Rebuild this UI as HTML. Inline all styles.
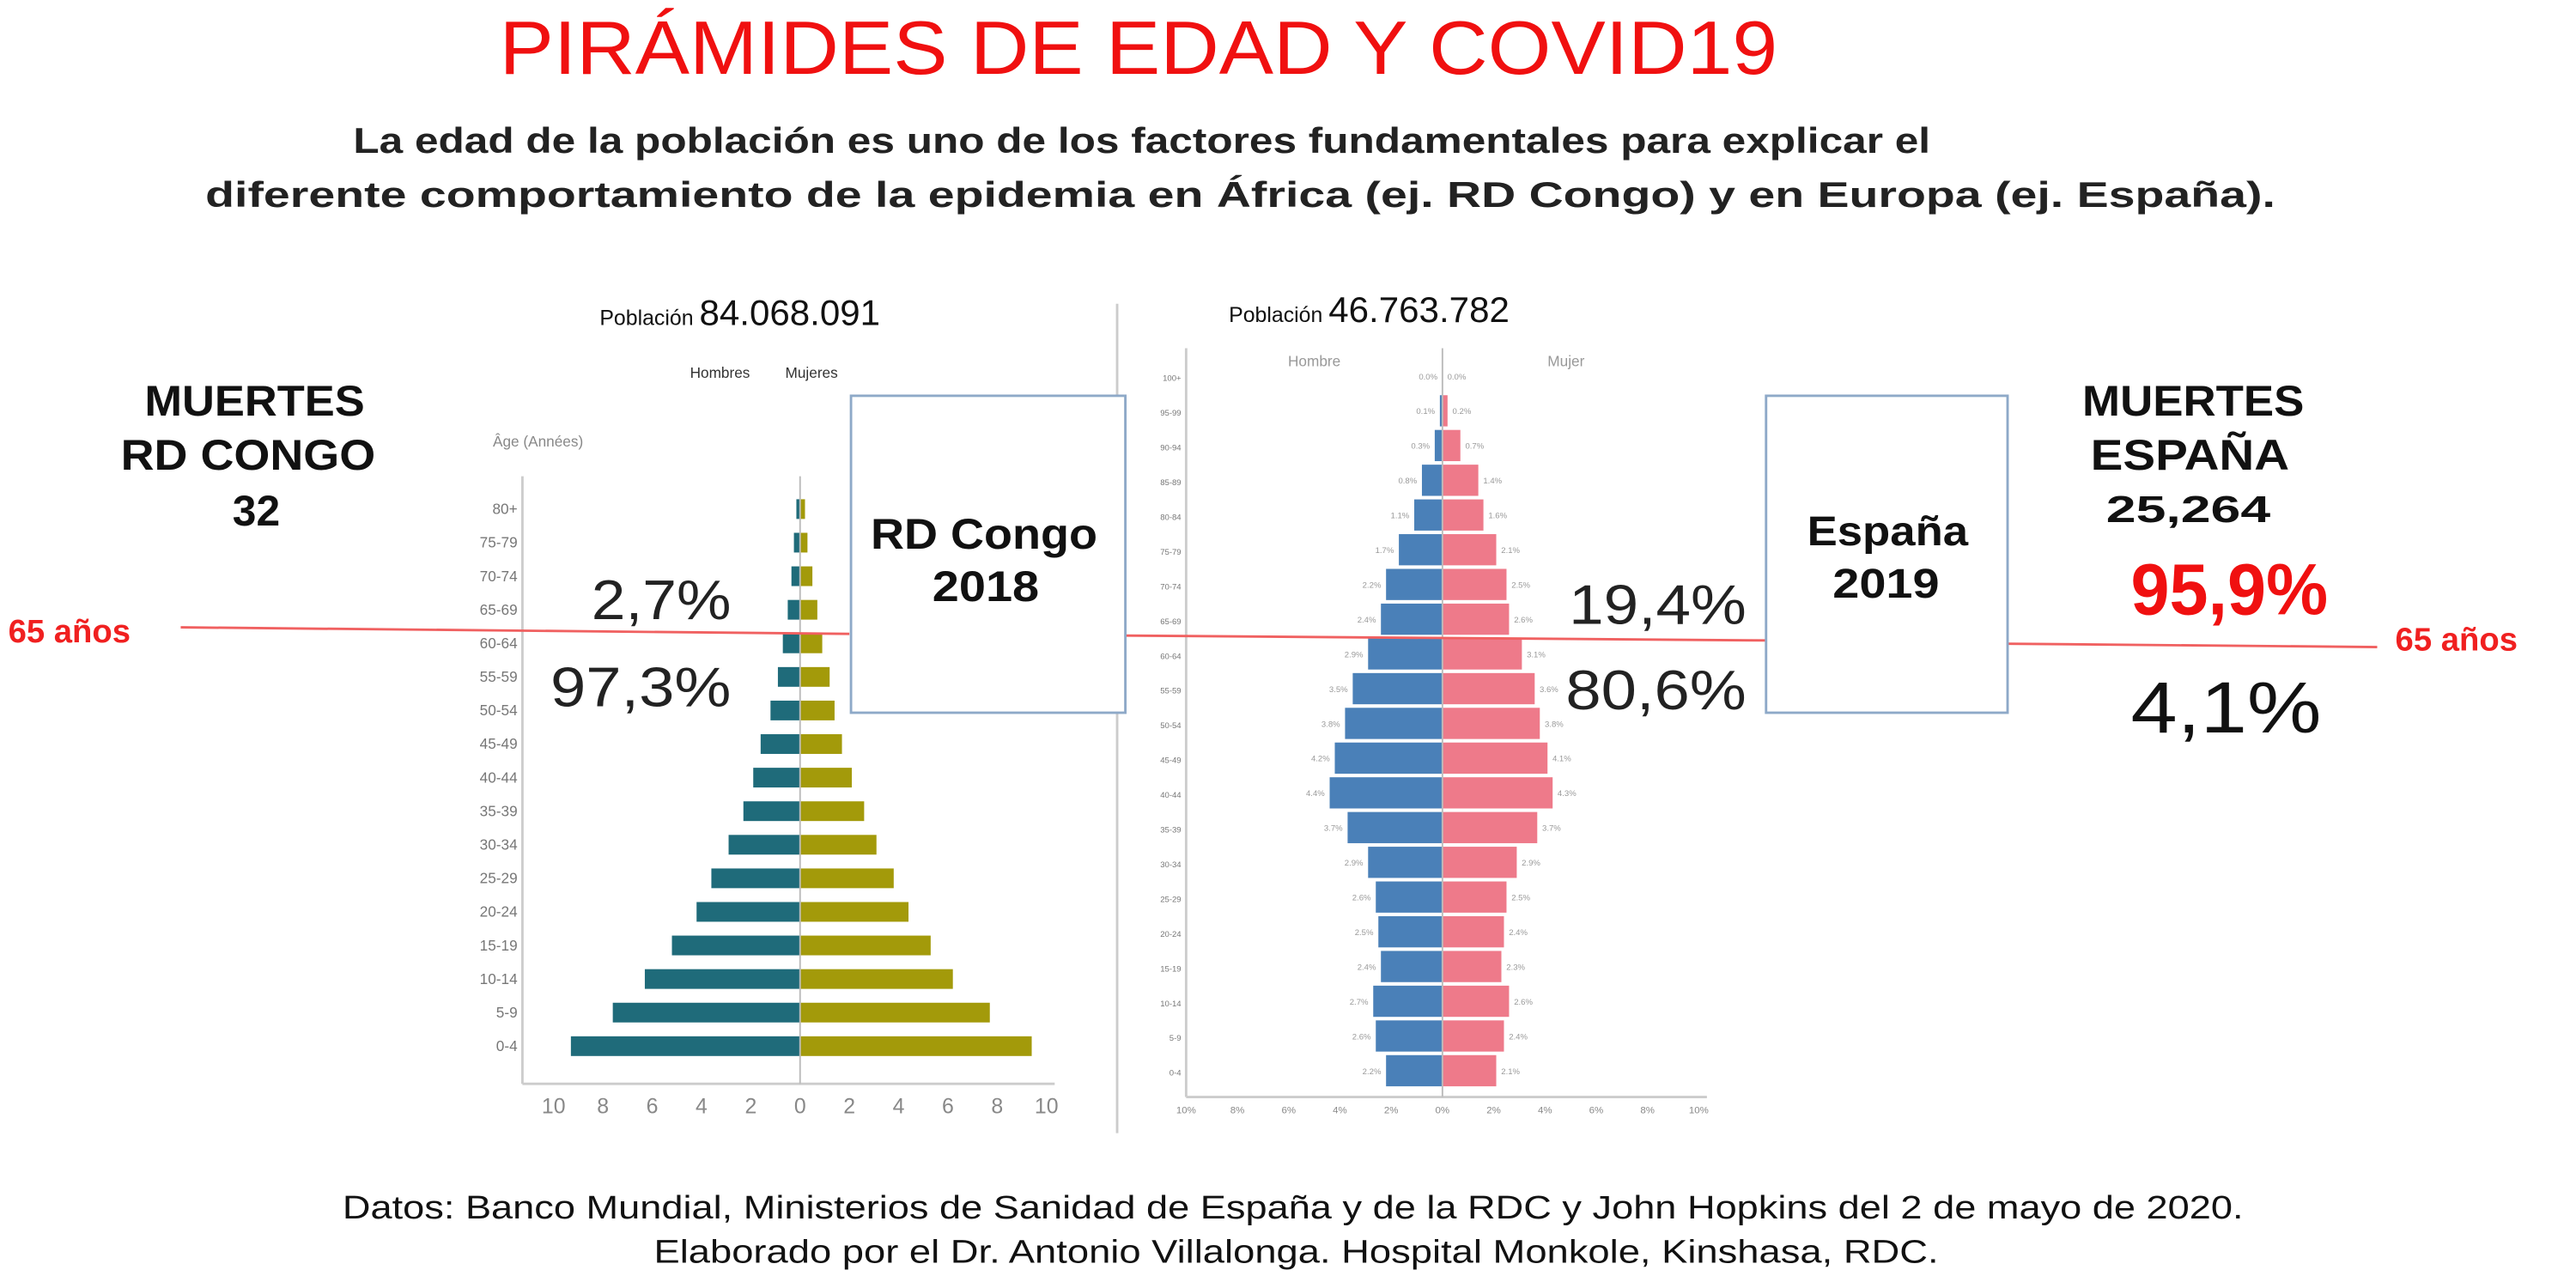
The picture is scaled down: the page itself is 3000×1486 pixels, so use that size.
<!DOCTYPE html>
<html><head><meta charset="utf-8"><style>
html,body{margin:0;padding:0;background:#fff;}
svg{display:block;font-family:"Liberation Sans",sans-serif;}
</style></head><body>
<svg id="chart" width="3000" height="1486" viewBox="0 0 1568 777" preserveAspectRatio="none" xmlns="http://www.w3.org/2000/svg">
<rect width="1568" height="777" fill="#fff"/>
<text x="693" y="45" text-anchor="middle" font-size="46" fill="#f01010" textLength="778" lengthAdjust="spacingAndGlyphs">PIRÁMIDES DE EDAD Y COVID19</text>
<text x="695" y="93" text-anchor="middle" font-size="22" font-weight="bold" fill="#222" textLength="960" lengthAdjust="spacingAndGlyphs">La edad de la población es uno de los factores fundamentales para explicar el</text>
<text x="755" y="126" text-anchor="middle" font-size="22" font-weight="bold" fill="#222" textLength="1260" lengthAdjust="spacingAndGlyphs">diferente comportamiento de la epidemia en África (ej. RD Congo) y en Europa (ej. España).</text>

<line x1="680" y1="185" x2="680" y2="690" stroke="#ccc" stroke-width="1.5"/>

<text x="365" y="198" font-size="13" fill="#111">Población <tspan font-size="22">84.068.091</tspan></text>
<text x="748" y="196" font-size="13" fill="#111">Población <tspan font-size="22">46.763.782</tspan></text>
<text x="420" y="230" font-size="9" fill="#333">Hombres</text>
<text x="478" y="230" font-size="9" fill="#333">Mujeres</text>
<text x="300" y="272" font-size="9" fill="#888">Âge (Années)</text>
<text x="784" y="223" font-size="9" fill="#999">Hombre</text>
<text x="942" y="223" font-size="9" fill="#999">Mujer</text>

<g id="congo"></g>
<g id="spain"></g>

<g stroke="#f06060" stroke-width="1.5">
<line x1="110" y1="382" x2="517" y2="386"/>
<line x1="685" y1="387" x2="1075" y2="390"/>
<line x1="1222" y1="392" x2="1447" y2="394"/>
</g>
<text x="5" y="391" font-size="20" font-weight="bold" fill="#f02020">65 años</text>
<text x="1458" y="396" font-size="20" font-weight="bold" fill="#f02020">65 años</text>

<rect x="518" y="241" width="167" height="193" fill="#fff" stroke="#8ea9c8" stroke-width="1.5"/>
<text x="599" y="334" text-anchor="middle" font-size="26" font-weight="bold" fill="#111" textLength="138" lengthAdjust="spacingAndGlyphs">RD Congo</text>
<text x="600" y="366" text-anchor="middle" font-size="26" font-weight="bold" fill="#111" textLength="65" lengthAdjust="spacingAndGlyphs">2018</text>
<rect x="1075" y="241" width="147" height="193" fill="#fff" stroke="#8ea9c8" stroke-width="1.5"/>
<text x="1149" y="332" text-anchor="middle" font-size="25" font-weight="bold" fill="#111" textLength="98" lengthAdjust="spacingAndGlyphs">España</text>
<text x="1148" y="364" text-anchor="middle" font-size="25" font-weight="bold" fill="#111" textLength="65" lengthAdjust="spacingAndGlyphs">2019</text>

<g font-size="26" font-weight="bold" fill="#111" text-anchor="middle">
<text x="155" y="253" textLength="134" lengthAdjust="spacingAndGlyphs">MUERTES</text><text x="151" y="286" textLength="155" lengthAdjust="spacingAndGlyphs">RD CONGO</text><text x="156" y="320">32</text></g>
<g font-weight="bold" fill="#111" text-anchor="middle">
<text x="1335" y="253" font-size="26" textLength="135" lengthAdjust="spacingAndGlyphs">MUERTES</text><text x="1333" y="286" font-size="26" textLength="121" lengthAdjust="spacingAndGlyphs">ESPAÑA</text><text x="1332" y="318" font-size="23" textLength="100" lengthAdjust="spacingAndGlyphs">25,264</text></g>
<text x="1357" y="374" text-anchor="middle" font-size="44" font-weight="bold" fill="#f01010" textLength="120" lengthAdjust="spacingAndGlyphs">95,9%</text>
<text x="1355" y="446" text-anchor="middle" font-size="44" fill="#111" textLength="116" lengthAdjust="spacingAndGlyphs">4,1%</text>
<text x="445" y="377" text-anchor="end" font-size="34" fill="#222" textLength="85" lengthAdjust="spacingAndGlyphs">2,7%</text>
<text x="445" y="430" text-anchor="end" font-size="34" fill="#222" textLength="110" lengthAdjust="spacingAndGlyphs">97,3%</text>
<text x="1063" y="380" text-anchor="end" font-size="34" fill="#222" textLength="108" lengthAdjust="spacingAndGlyphs">19,4%</text>
<text x="1063" y="432" text-anchor="end" font-size="34" fill="#222" textLength="110" lengthAdjust="spacingAndGlyphs">80,6%</text>

<text x="787" y="742" text-anchor="middle" font-size="20" fill="#111" textLength="1157" lengthAdjust="spacingAndGlyphs">Datos: Banco Mundial, Ministerios de Sanidad de España y de la RDC y John Hopkins del 2 de mayo de 2020.</text>
<text x="789" y="769" text-anchor="middle" font-size="20" fill="#111" textLength="782" lengthAdjust="spacingAndGlyphs">Elaborado por el Dr. Antonio Villalonga. Hospital Monkole, Kinshasa, RDC.</text>
</svg>
<script>
const congoAges=["80+","75-79","70-74","65-69","60-64","55-59","50-54","45-49","40-44","35-39","30-34","25-29","20-24","15-19","10-14","5-9","0-4"];
const congoMen=[0.15,0.25,0.35,0.5,0.7,0.9,1.2,1.6,1.9,2.3,2.9,3.6,4.2,5.2,6.3,7.6,9.3];
const congoWomen=[0.2,0.3,0.5,0.7,0.9,1.2,1.4,1.7,2.1,2.6,3.1,3.8,4.4,5.3,6.2,7.7,9.4];
const congoTicks=[10,8,6,4,2,0,2,4,6,8,10];
const spainAges=["100+","95-99","90-94","85-89","80-84","75-79","70-74","65-69","60-64","55-59","50-54","45-49","40-44","35-39","30-34","25-29","20-24","15-19","10-14","5-9","0-4"];
const spainMen=[0.0,0.1,0.3,0.8,1.1,1.7,2.2,2.4,2.9,3.5,3.8,4.2,4.4,3.7,2.9,2.6,2.5,2.4,2.7,2.6,2.2];
const spainWomen=[0.0,0.2,0.7,1.4,1.6,2.1,2.5,2.6,3.1,3.6,3.8,4.1,4.3,3.7,2.9,2.5,2.4,2.3,2.6,2.4,2.1];
const spainTicks=["10%","8%","6%","4%","2%","0%","2%","4%","6%","8%","10%"];
const NS="http://www.w3.org/2000/svg";
function mk(p,t,a){const e=document.createElementNS(NS,t);for(const k in a)e.setAttribute(k,a[k]);p.appendChild(e);return e;}
function pyramid(g,o){
  const xs=v=>o.cx+v*o.unit;
  const ys=i=>o.top+i*o.step;
  const ax=mk(g,'line',{x1:o.axisX,y1:o.axisTop,x2:o.axisX,y2:o.axisY,stroke:'#ccc','stroke-width':1.5});
  
  
  const bx=mk(g,'line',{x1:o.axisX,y1:o.axisY,x2:xs(10)+5,y2:o.axisY,stroke:'#ccc','stroke-width':1.5});
  
  
  o.ages.forEach((a,i)=>{
    const y=ys(i);
    const m=mk(g,'rect',{x:xs(-o.men[i]),y:y-o.bh/2,width:o.men[i]*o.unit,height:o.bh,fill:o.cm});
    
    
    const w=mk(g,'rect',{x:o.cx,y:y-o.bh/2,width:o.women[i]*o.unit,height:o.bh,fill:o.cw});
    
    
    const t=mk(g,'text',{x:o.axisX-3,y:y+3,'text-anchor':'end','font-size':o.fs,fill:'#777'});
    t.textContent=a;
    
    
    if(o.vals){
      const l=mk(g,'text',{x:xs(-o.men[i])-3,y:y+2,'text-anchor':'end','font-size':5,fill:'#999'});
      l.textContent=o.men[i].toFixed(1)+'%';
      
      
      const r=mk(g,'text',{x:xs(o.women[i])+3,y:y+2,'font-size':5,fill:'#999'});
      r.textContent=o.women[i].toFixed(1)+'%';
      
      
    }
  });
  const cl=mk(g,'line',{x1:o.cx,y1:o.axisTop,x2:o.cx,y2:o.axisY,stroke:'#bbb','stroke-width':1});
  
  
  o.ticks.forEach((tk,j)=>{
    const v=(j-5)*2;
    const t=mk(g,'text',{x:xs(v),y:o.axisY+o.tdy,'text-anchor':'middle','font-size':o.tfs,fill:'#888'});
    t.textContent=tk;
    
    
  });
}
pyramid(document.getElementById('congo'),{id:'congo',ages:congoAges,men:congoMen,women:congoWomen,ticks:congoTicks,cx:487,unit:15,top:310,step:20.44,bh:12,cm:'#1f6b7a',cw:'#a39a0a',axisX:318,axisTop:290,axisY:660,fs:9,tfs:13,tdy:18,vals:false});
pyramid(document.getElementById('spain'),{id:'spain',ages:spainAges,men:spainMen,women:spainWomen,ticks:spainTicks,cx:878,unit:15.6,top:229,step:21.15,bh:19,cm:'#4a80b8',cw:'#ee7a8a',axisX:722,axisTop:212,axisY:668,fs:5,tfs:6,tdy:10,vals:true});
</script>
</body></html>
